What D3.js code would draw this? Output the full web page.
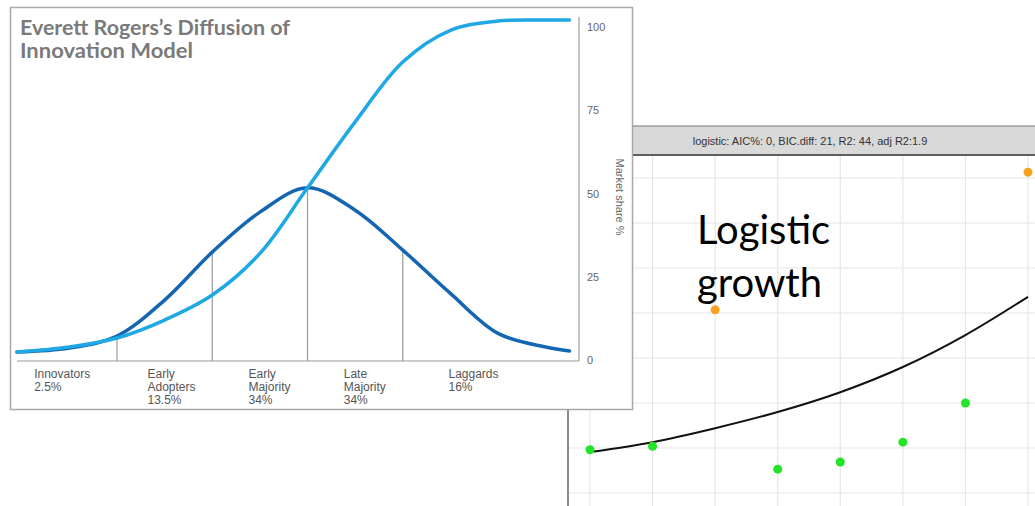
<!DOCTYPE html>
<html>
<head>
<meta charset="utf-8">
<script src="https://cdn.jsdelivr.net/npm/d3@7"></script>
<style>
  body { margin: 0; background: #fff; }
  svg { display: block; }
</style>
</head>
<body>
<div id="chart"></div>
<script>
// ---- left chart: Rogers diffusion curves ----
const sdSteps = [-3.05, -2.5, -2, -1.5, -1, -0.5, 0, 0.5, 1, 1.5, 2, 2.5, 2.75];
const adopters = [2.4, 3.6, 7.2, 18, 32.4, 44.4, 51.7, 45, 33, 20, 8, 3.9, 2.7];
const marketShare = [2.4, 3.9, 6.6, 12, 19.5, 32, 51.7, 71.5, 89.5, 99, 101.8, 102.1, 102.1];
const boundaries = [-2, -1, 0, 1];
const groupLines = [["Innovators"], ["Early", "Adopters"], ["Early", "Majority"], ["Late", "Majority"], ["Laggards"]];
const groupShares = ["2.5%", "13.5%", "34%", "34%", "16%"];
const labelAt = [-2.87, -1.68, -0.62, 0.38, 1.48];
const shareTicks = [0, 25, 50, 75, 100];

// ---- right chart: logistic fit ----
const periods = [1, 2, 3, 4, 5, 6, 7, 8];
const observed = [0.96, 1.04, 4.07, 0.53, 0.69, 1.13, 2.0, 7.13];
const flagged = [false, false, true, false, false, false, false, true];
const fitted = [0.91, 1.13, 1.44, 1.8, 2.24, 2.8, 3.51, 4.36];
const gridRows = [0, 1, 2, 3, 4, 5, 6, 7];
const stripText = "logistic: AIC%: 0, BIC.diff: 21, R2: 44, adj R2:1.9";

const width = 1035, height = 506;
const svg = d3.select("#chart").append("svg")
    .attr("width", width)
    .attr("height", height);

// right panel first (it sits behind the left box)
const xR = d3.scaleLinear().domain([1, 8]).range([590, 1028]);
const yR = d3.scaleLinear().domain([0, 7]).range([493, 178]);
const right = svg.append("g").attr("class", "right");

right.selectAll(".hgrid").data(gridRows).enter()
    .append("line")
    .attr("class", "hgrid")
    .attr("x1", 568).attr("x2", width)
    .attr("y1", d => yR(d)).attr("y2", d => yR(d))
    .attr("stroke", "#e6e6e6").attr("stroke-width", 1.2);

right.selectAll(".vgrid").data(periods).enter()
    .append("line")
    .attr("class", "vgrid")
    .attr("x1", d => xR(d)).attr("x2", d => xR(d))
    .attr("y1", 156).attr("y2", height)
    .attr("stroke", "#e6e6e6").attr("stroke-width", 1.2);

right.append("line")
    .attr("x1", 568).attr("x2", 568)
    .attr("y1", 155).attr("y2", height)
    .attr("stroke", "#666").attr("stroke-width", 1.5);

right.append("rect")
    .attr("x", 568).attr("y", 126)
    .attr("width", 480).attr("height", 29)
    .attr("fill", "#d9d9d9")
    .attr("stroke", "#8a8a8a").attr("stroke-width", 1.2);
right.append("line")
    .attr("x1", 568).attr("x2", width)
    .attr("y1", 155).attr("y2", 155)
    .attr("stroke", "#444").attr("stroke-width", 1.6);
right.append("text")
    .attr("x", 810).attr("y", 145)
    .attr("text-anchor", "middle")
    .attr("font-family", "Liberation Sans, Arial, sans-serif")
    .attr("font-size", 11)
    .attr("fill", "#333")
    .text(stripText);

right.append("path")
    .datum(periods.map((p, i) => [p, fitted[i]]))
    .attr("fill", "none")
    .attr("stroke", "#111")
    .attr("stroke-width", 2)
    .attr("d", d3.line()
        .curve(d3.curveMonotoneX)
        .x(d => xR(d[0]))
        .y(d => yR(d[1])));

const bigText = right.append("text")
    .attr("font-family", "Lato, Open Sans, sans-serif")
    .attr("font-size", 40)
    .attr("fill", "#000");
bigText.append("tspan").attr("x", 697).attr("y", 244).text("Logistic");
bigText.append("tspan").attr("x", 697).attr("y", 297).text("growth");

right.selectAll(".obs").data(periods).enter()
    .append("circle")
    .attr("class", "obs")
    .attr("cx", d => xR(d))
    .attr("cy", (d, i) => yR(observed[i]))
    .attr("r", 4.5)
    .attr("fill", (d, i) => flagged[i] ? "#f7a21e" : "#22e52a");

// left box
const left = svg.append("g").attr("class", "left");
left.append("rect")
    .attr("x", 10.5).attr("y", 7.5)
    .attr("width", 622).attr("height", 402)
    .attr("fill", "#fff")
    .attr("stroke", "#a8a8a8").attr("stroke-width", 1.5);

const xL = d3.scaleLinear().domain([-3.05, 2.85]).range([17, 579]);
const yL = d3.scaleLinear().domain([0, 100]).range([360, 27]);

left.append("line")
    .attr("x1", 17).attr("x2", 579)
    .attr("y1", 361).attr("y2", 361)
    .attr("stroke", "#9a9a9a").attr("stroke-width", 1.2);
left.append("line")
    .attr("x1", 579).attr("x2", 579)
    .attr("y1", 17).attr("y2", 361)
    .attr("stroke", "#9a9a9a").attr("stroke-width", 1.2);

// segment dividers up to the bell curve
left.selectAll(".divider").data(boundaries).enter()
    .append("line")
    .attr("class", "divider")
    .attr("x1", d => xL(d)).attr("x2", d => xL(d))
    .attr("y1", 361)
    .attr("y2", d => yL(adopters[sdSteps.indexOf(d)]))
    .attr("stroke", "#9a9a9a").attr("stroke-width", 1.2);

const lineL = d3.line()
    .curve(d3.curveCatmullRom.alpha(0.5))
    .x(d => xL(d[0]))
    .y(d => yL(d[1]));

left.append("path")
    .datum(sdSteps.map((s, i) => [s, adopters[i]]))
    .attr("fill", "none")
    .attr("stroke", "#1566b2")
    .attr("stroke-width", 3.5)
    .attr("stroke-linecap", "round")
    .attr("d", lineL);

left.append("path")
    .datum(sdSteps.map((s, i) => [s, marketShare[i]]))
    .attr("fill", "none")
    .attr("stroke", "#1fa8e4")
    .attr("stroke-width", 3.5)
    .attr("stroke-linecap", "round")
    .attr("d", lineL);

// right-hand axis
const yAxis = left.append("g")
    .attr("transform", "translate(579,0)")
    .call(d3.axisRight(yL).tickValues(shareTicks).tickSize(0).tickPadding(8));
yAxis.select(".domain").remove();
yAxis.selectAll("text")
    .attr("font-family", "Liberation Sans, Arial, sans-serif")
    .attr("font-size", 11)
    .attr("fill", "#666");

left.append("text")
    .attr("transform", "translate(616,197) rotate(90)")
    .attr("text-anchor", "middle")
    .attr("font-family", "Liberation Sans, Arial, sans-serif")
    .attr("font-size", 11)
    .attr("fill", "#666")
    .text("Market share %");

// group labels
const labels = left.selectAll(".grp").data(groupLines).enter()
    .append("text")
    .attr("class", "grp")
    .attr("font-family", "Liberation Sans, Arial, sans-serif")
    .attr("font-size", 12)
    .attr("fill", "#555");
labels.each(function (lines, i) {
    const t = d3.select(this);
    lines.concat([groupShares[i]]).forEach(function (s, j) {
        t.append("tspan")
            .attr("x", xL(labelAt[i]))
            .attr("y", 378 + j * 13)
            .text(s);
    });
});

// title
const title = left.append("text")
    .attr("font-family", "Lato, DejaVu Sans, sans-serif")
    .attr("font-weight", "bold")
    .attr("font-size", 20)
    .attr("fill", "#7a7a7a");
title.append("tspan").attr("x", 20).attr("y", 35)
    .attr("textLength", 270).attr("lengthAdjust", "spacingAndGlyphs")
    .text("Everett Rogers\u2019s Diffusion of");
title.append("tspan").attr("x", 20).attr("y", 58)
    .attr("textLength", 173).attr("lengthAdjust", "spacingAndGlyphs")
    .text("Innovation Model");
</script>
</body>
</html>
